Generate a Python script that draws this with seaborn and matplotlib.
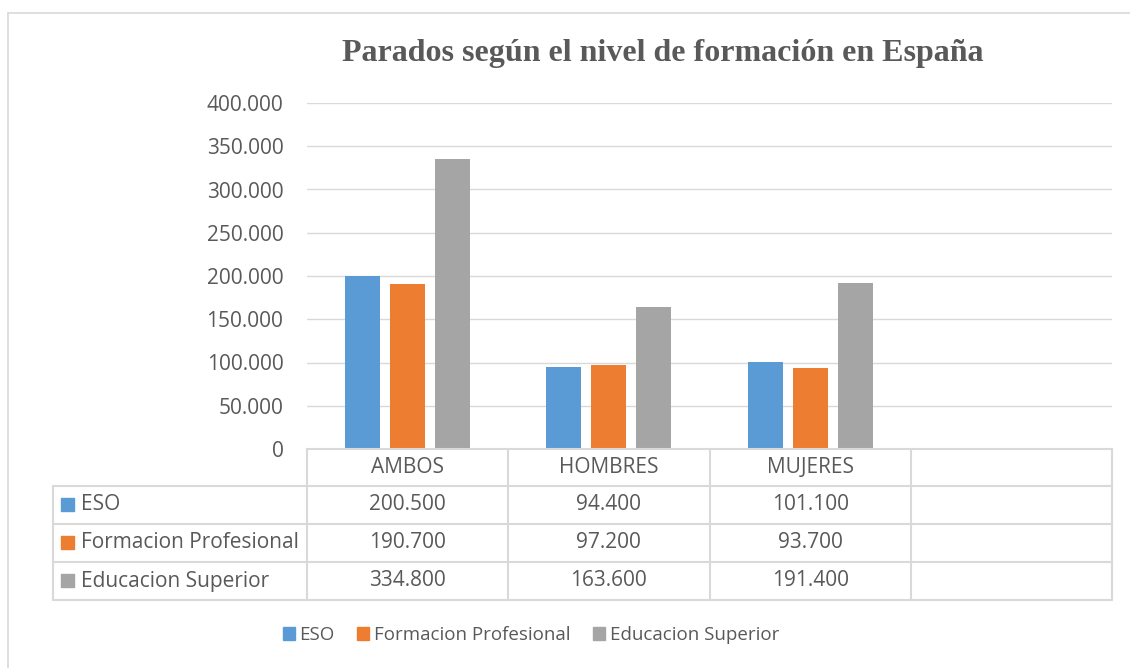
import matplotlib
matplotlib.use("Agg")
import matplotlib.pyplot as plt
import matplotlib.transforms as mtransforms
from matplotlib.lines import Line2D
from matplotlib.patches import Patch, Rectangle
from matplotlib.ticker import FuncFormatter, MultipleLocator
import pandas as pd
import seaborn as sns

categories = ["AMBOS", "HOMBRES", "MUJERES"]
series = ["ESO", "Formacion Profesional", "Educacion Superior"]
eso = [200500, 94400, 101100]
formacion = [190700, 97200, 93700]
superior = [334800, 163600, 191400]
colors = ["#5B9BD5", "#ED7D31", "#A5A5A5"]

TITLE = "Parados según el nivel de formación en España"
TEXT = "#595959"
LINE = "#D9D9D9"
W, H = 1130, 668
FS = 15


def miles(v):
    return f"{int(round(v)):,}".replace(",", ".")


df = pd.DataFrame({
    "grupo": categories * 3,
    "nivel": [s for s in series for _ in categories],
    "parados": eso + formacion + superior,
})

sns.set_theme(style="white")
plt.rcParams["font.family"] = ["Open Sans", "DejaVu Sans"]

fig = plt.figure(figsize=(W / 100, H / 100), dpi=100)
ax = fig.add_axes([307 / W, 1 - 449 / H, (1112 - 307) / W, (449 - 103) / H])

sns.barplot(data=df, x="grupo", y="parados", hue="nivel", palette=colors,
            order=categories, hue_order=series, width=0.67, gap=0.22,
            saturation=1, linewidth=0, legend=False, ax=ax)
ax.set_xlim(-0.5, 3.5)
ax.set_ylim(0, 400000)
ax.yaxis.set_major_locator(MultipleLocator(50000))
ax.yaxis.set_major_formatter(FuncFormatter(lambda v, _: miles(v)))
ax.grid(axis="y", color=LINE, lw=1)
ax.set_axisbelow(True)
for s in ax.spines.values():
    s.set_visible(False)
ax.tick_params(axis="y", length=0, pad=17, labelsize=FS, labelcolor=TEXT)
ax.set_xticks([])
ax.set_xlabel("")
ax.set_ylabel("")

# pixel coordinates, origin top-left
pix = mtransforms.Affine2D().scale(1 / W, -1 / H).translate(0, 1) + fig.transFigure

fig.text(663 / W, 1 - 53 / H, TITLE, ha="center", va="center", fontsize=23,
         fontweight="bold", family="Liberation Serif", color=TEXT)

# outer chart border
fig.add_artist(Line2D([7.5, 7.5], [13, 668], transform=pix, color=LINE, lw=1.2))
fig.add_artist(Line2D([7.5, 1130], [13, 13], transform=pix, color=LINE, lw=1.2))

# data table
edges = [-0.5, 0.5, 1.5, 2.5, 3.5]
edge_px = [ax.transData.transform((e, 0))[0] for e in edges]
rows_y = [449, 486, 524, 562, 600]
left_px = 53
lw = 1.5

fig.add_artist(Line2D([edge_px[0], edge_px[-1]], [rows_y[0]] * 2, transform=pix, color=LINE, lw=lw))
for y in rows_y[1:]:
    fig.add_artist(Line2D([left_px, edge_px[-1]], [y, y], transform=pix, color=LINE, lw=lw))
for x in edge_px:
    fig.add_artist(Line2D([x, x], [rows_y[0], rows_y[-1]], transform=pix, color=LINE, lw=lw))
fig.add_artist(Line2D([left_px, left_px], [rows_y[1], rows_y[-1]], transform=pix, color=LINE, lw=lw))

centers = [(edge_px[i] + edge_px[i + 1]) / 2 for i in range(len(categories))]
hy = (rows_y[0] + rows_y[1]) / 2
for cx, cat in zip(centers, categories):
    fig.text(cx / W, 1 - hy / H, cat, ha="center", va="center", fontsize=FS, color=TEXT)

for r, (name, vals, col) in enumerate(zip(series, [eso, formacion, superior], colors)):
    cy = (rows_y[r + 1] + rows_y[r + 2]) / 2
    fig.add_artist(Rectangle((61, cy - 7), 13, 13, transform=pix, color=col))
    fig.text(81 / W, 1 - cy / H, name, ha="left", va="center", fontsize=FS, color=TEXT)
    for cx, v in zip(centers, vals):
        fig.text(cx / W, 1 - cy / H, miles(v), ha="center", va="center", fontsize=FS, color=TEXT)

handles = [Patch(color=c, label=s) for c, s in zip(colors, series)]
fig.legend(handles=handles, loc="center", bbox_to_anchor=(531 / W, 1 - 635 / H), ncol=3,
           frameon=False, handlelength=0.64, handleheight=0.64, columnspacing=1.2,
           handletextpad=0.25, fontsize=13.5, labelcolor=TEXT)

fig.savefig("out.png", dpi=100)
